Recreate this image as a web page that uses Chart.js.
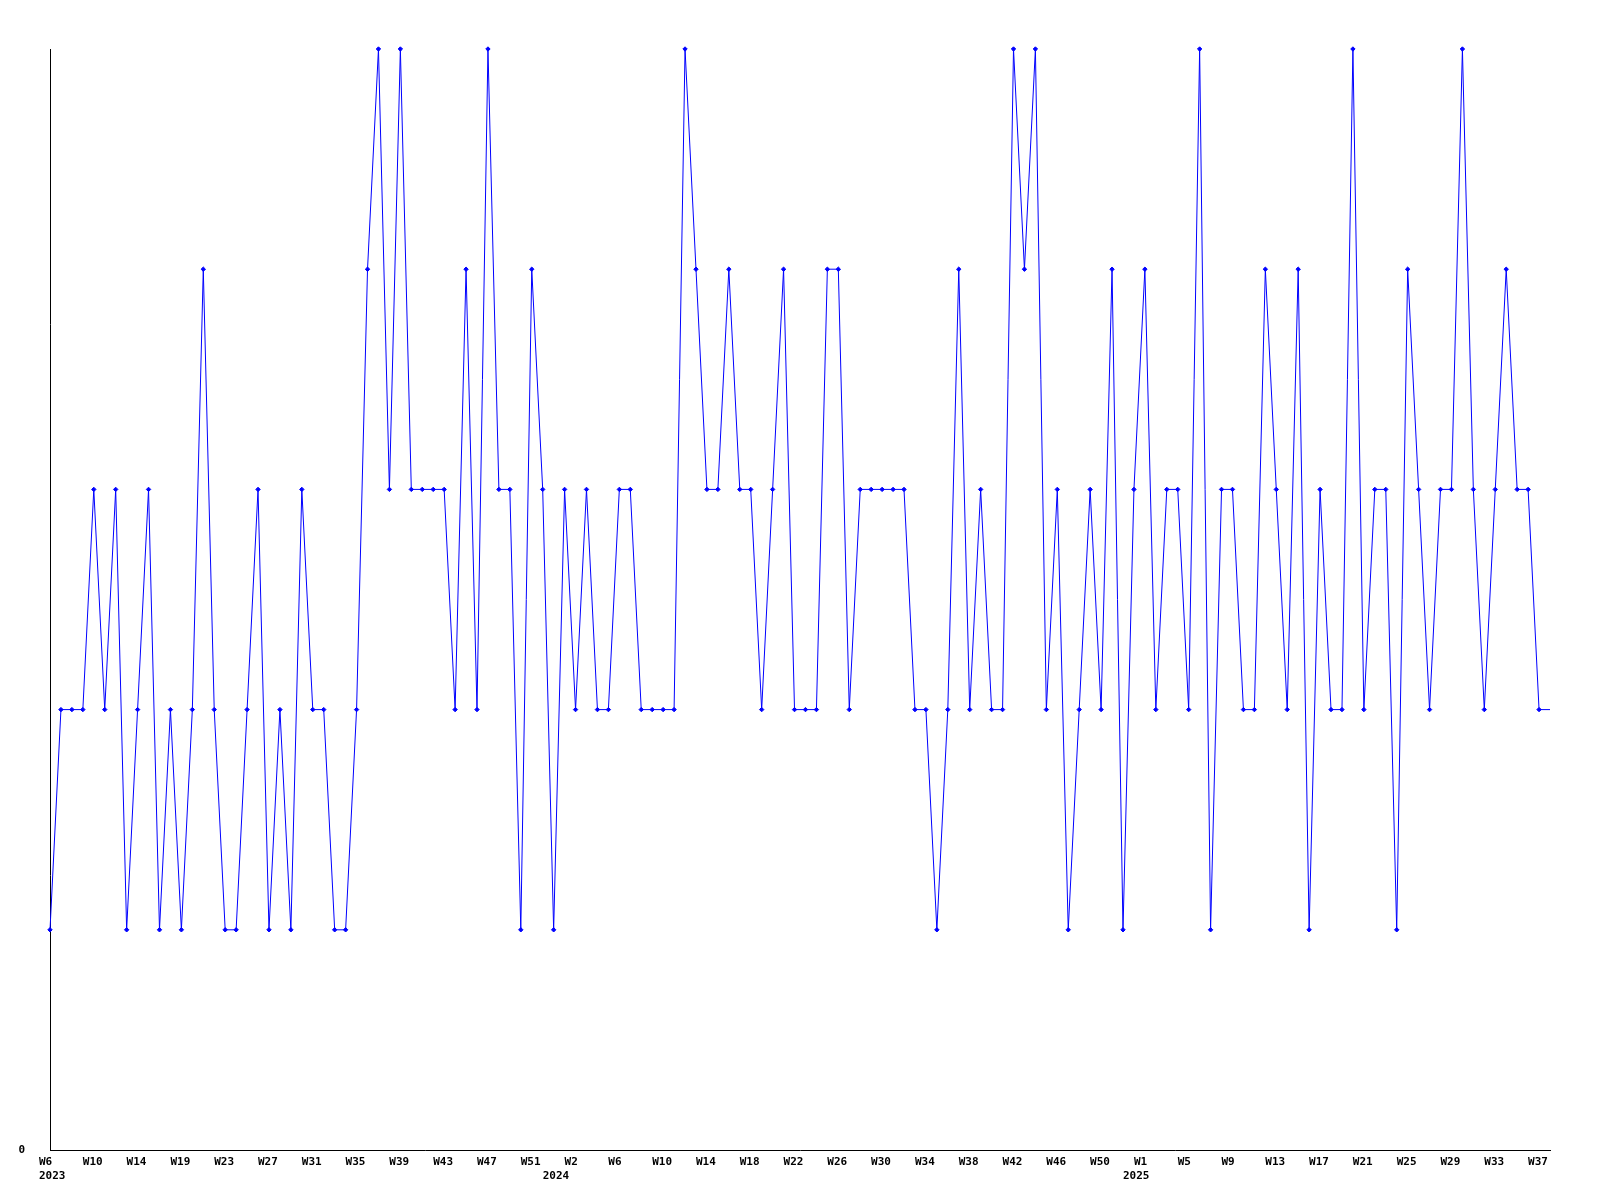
<!DOCTYPE html>
<html>
<head>
<meta charset="utf-8">
<script src="https://cdn.jsdelivr.net/npm/chart.js@4/dist/chart.umd.min.js"></script>
<style>
  html, body { margin: 0; padding: 0; background: #ffffff; }
  #wrap { width: 1600px; height: 1200px; }
</style>
</head>
<body>
<div id="wrap"><canvas id="c" width="1600" height="1200"></canvas></div>
<script>
// Week numbers per year (categories)
const weeks2023 = [6,7,8,9,10,11,12,13,14,16,17,18,19,20,21,22,23,24,25,26,27,28,29,30,31,32,33,34,35,36,37,38,39,40,41,42,43,44,45,46,47,48,49,50,51,52];
const weeks2024 = [0,1,2,3,4,5,6,7,8,9,10,11,12,13,14,15,16,17,18,19,20,21,22,23,24,25,26,27,28,29,30,31,32,33,34,35,36,37,38,39,40,41,42,43,44,45,46,47,48,49,50,51,52];
const weeks2025 = [0,1,2,3,4,5,6,7,8,9,10,11,12,13,14,15,16,17,18,19,20,21,22,23,24,25,26,27,28,29,30,31,32,33,34,35,36,37,38];
const years = [2023, 2024, 2025];

// Series values, one per week
const values = [
  1,2,2,2,3,2,3,1,2,3,1,2,1,2,4,2,1,1,2,3,1,2,1,3,
  2,2,1,1,2,4,5,3,5,3,3,3,3,2,4,2,5,3,3,1,4,3,1,3,
  2,3,2,2,3,3,2,2,2,2,5,4,3,3,4,3,3,2,3,4,2,2,2,4,
  4,2,3,3,3,3,3,2,2,1,2,4,2,3,2,2,5,4,5,2,3,1,2,3,
  2,4,1,3,4,2,3,3,2,5,1,3,3,2,2,4,3,2,4,1,3,2,2,
  5,2,3,3,1,4,3,2,3,3,5,3,2,3,4,3,3,2,2
];

// Y tick labels shown
const yTickValues = [0];
const labelEvery = 4;

const categories = [];
const catYear = [];
[weeks2023, weeks2024, weeks2025].forEach((wk, yi) => {
  wk.forEach(w => { categories.push('W' + w); catYear.push(years[yi]); });
});

const FONT = { family: '"DejaVu Sans Mono", monospace', size: 11, weight: 'bold', lineHeight: '14px' };

new Chart(document.getElementById('c'), {
  type: 'line',
  data: {
    labels: categories,
    datasets: [{
      data: values,
      borderColor: '#0000ff',
      backgroundColor: '#0000ff',
      borderWidth: 1,
      tension: 0,
      fill: false,
      clip: false,
      pointStyle: 'rectRot',
      pointRadius: (ctx) => ctx.dataIndex === values.length - 1 ? 0 : 2.2,
      pointBorderWidth: 1,
      pointBorderColor: '#0000ff',
      pointBackgroundColor: '#0000ff',
      pointHoverRadius: 2.2
    }]
  },
  options: {
    responsive: false,
    animation: false,
    devicePixelRatio: 1,
    layout: { padding: { top: 49, right: 50, bottom: 0, left: 0 } },
    plugins: { legend: { display: false }, tooltip: { enabled: false }, title: { display: false } },
    scales: {
      x: {
        type: 'category',
        offset: false,
        grid: { display: false, drawTicks: false },
        border: { display: true, color: '#000000', width: 1 },
        afterFit: (s) => { s.height = 50; },
        ticks: {
          autoSkip: false,
          maxRotation: 0,
          minRotation: 0,
          align: 'start',
          labelOffset: -11,
          padding: 5,
          color: '#000000',
          font: FONT,
          callback: function(val, idx) {
            const lines = [];
            const isYearStart = idx === 0 || catYear[idx] !== catYear[idx - 1];
            const showWeek = idx % labelEvery === 0;
            if (!showWeek && !isYearStart) return null;
            lines.push(showWeek ? categories[idx] : '');
            if (isYearStart) lines.push(String(catYear[idx]));
            return lines.length === 1 ? lines[0] : lines;
          }
        }
      },
      y: {
        min: 0,
        max: 5,
        grid: { display: false, drawTicks: false },
        border: { display: true, color: '#000000', width: 1 },
        afterFit: (s) => { s.width = 50; },
        afterBuildTicks: (s) => { s.ticks = yTickValues.map(v => ({ value: v })); },
        ticks: {
          padding: 25,
          color: '#000000',
          font: FONT,
          callback: (v) => String(v)
        }
      }
    }
  }
});
</script>
</body>
</html>
